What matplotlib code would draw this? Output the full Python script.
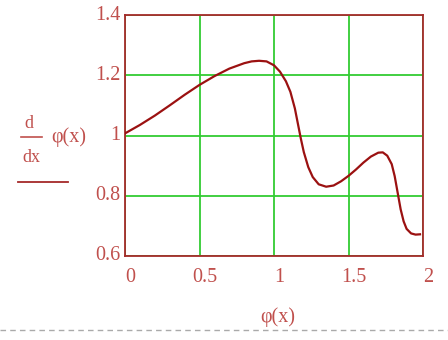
import matplotlib
matplotlib.use("Agg")
import matplotlib.pyplot as plt
from matplotlib.lines import Line2D

# curve: phi(x) vs d/dx phi(x)
phi = [0.0, 0.1, 0.2, 0.3, 0.4, 0.5, 0.6, 0.7, 0.8, 0.85, 0.9, 0.95, 1.0, 1.04,
       1.08, 1.11, 1.14, 1.16, 1.18, 1.2, 1.23, 1.26, 1.3, 1.35, 1.4, 1.45, 1.5,
       1.55, 1.6, 1.65, 1.7, 1.73, 1.76, 1.79, 1.81, 1.83, 1.85, 1.87, 1.89,
       1.92, 1.95, 1.98]
dphi = [1.007, 1.035, 1.066, 1.1, 1.135, 1.168, 1.197, 1.222, 1.24, 1.246,
        1.248, 1.246, 1.233, 1.212, 1.18, 1.145, 1.09, 1.04, 0.99, 0.945, 0.895,
        0.862, 0.838, 0.83, 0.834, 0.848, 0.866, 0.887, 0.91, 0.93, 0.943, 0.944,
        0.933, 0.905, 0.865, 0.81, 0.755, 0.715, 0.69, 0.675, 0.671, 0.672]

x_ticks = [0, 0.5, 1, 1.5, 2]
x_tick_labels = ["0", "0.5", "1", "1.5", "2"]
y_ticks = [0.6, 0.8, 1.0, 1.2, 1.4]
y_tick_labels = ["0.6", "0.8", "1", "1.2", "1.4"]

TXT = "#c0504d"
FRAME = "#a52a2a"
GRID = "#33cc33"
LINE = "#9b1111"
FONT = "Liberation Serif"

fig = plt.figure(figsize=(4.48, 3.4), dpi=100)
ax = fig.add_axes([125 / 448, 1 - 256 / 340, 298 / 448, 241 / 340])

ax.plot(phi, dphi, color=LINE, lw=1.6, zorder=3)
ax.set_xlim(0, 2)
ax.set_ylim(0.6, 1.4)
ax.set_xticks(x_ticks)
ax.set_yticks(y_ticks)
ax.set_xticklabels([])
ax.set_yticklabels([])
ax.tick_params(length=0)
ax.grid(True, color=GRID, lw=1.3)
for s in ax.spines.values():
    s.set_color(FRAME)
    s.set_linewidth(1.3)

# tick labels placed like the original (slightly offset)
for v, lab in zip(x_ticks, x_tick_labels):
    ax.annotate(lab, (v, 0.6), xytext=(4, -9), textcoords="offset points",
                ha="center", va="top", fontsize=14.5, color=TXT, family=FONT)
for v, lab in zip(y_ticks, y_tick_labels):
    ax.annotate(lab, (0, v), xytext=(-3, 0), textcoords="offset points",
                ha="right", va="center", fontsize=14.5, color=TXT, family=FONT)

# axis labels
fig.text(278 / 448, 1 - 317 / 340, "φ(x)", ha="center", va="center",
         fontsize=14.5, color=TXT, family=FONT)
fig.text(29 / 448, 1 - 124 / 340, "d", ha="center", va="center",
         fontsize=13, color=TXT, family=FONT)
fig.text(31 / 448, 1 - 158 / 340, "dx", ha="center", va="center",
         fontsize=13, color=TXT, family=FONT)
fig.text(69 / 448, 1 - 137 / 340, "φ(x)", ha="center", va="center",
         fontsize=14.5, color=TXT, family=FONT)
fig.add_artist(Line2D([21 / 448, 42 / 448], [1 - 137 / 340] * 2, color=TXT, lw=1.2))
fig.add_artist(Line2D([18 / 448, 68 / 448], [1 - 182 / 340] * 2, color=FRAME, lw=1.3))

# dashed separator at the bottom
fig.add_artist(Line2D([0, 1], [1 - 330 / 340] * 2, color="#aaaaaa", lw=1, ls=(0, (4, 3))))

fig.savefig("out.png", dpi=100)
